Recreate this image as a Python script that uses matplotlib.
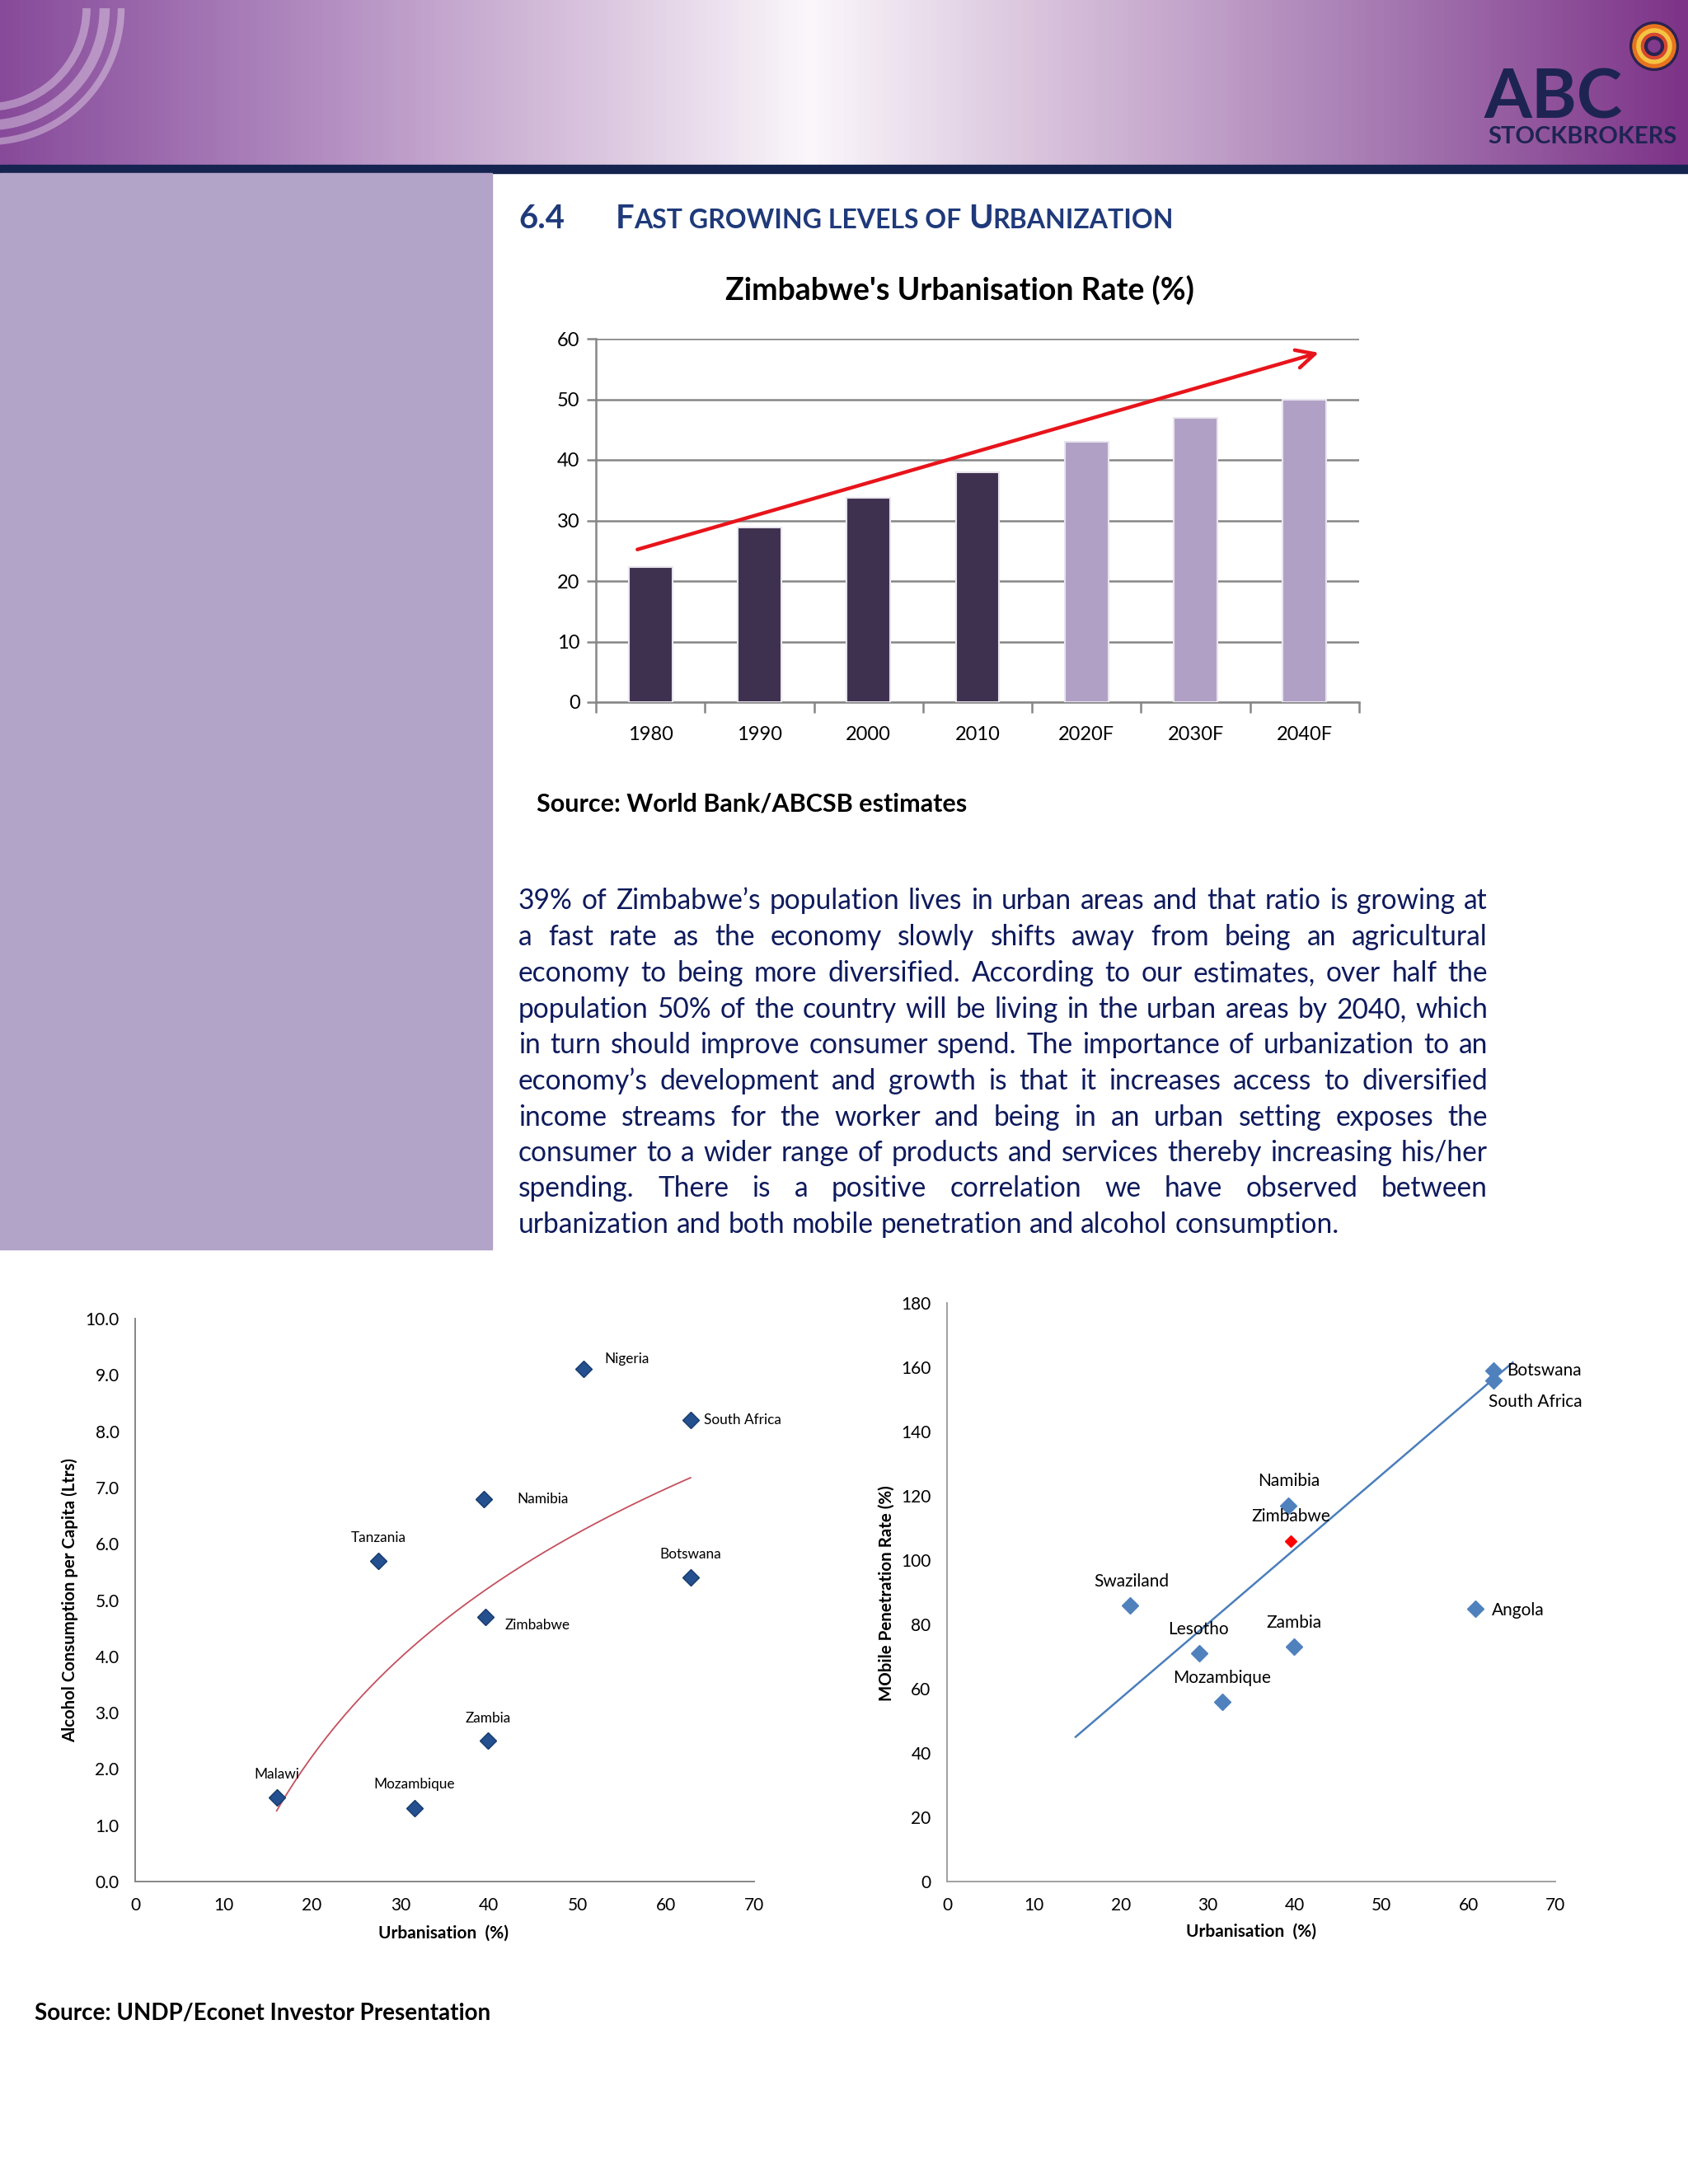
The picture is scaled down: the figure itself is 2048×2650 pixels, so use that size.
import numpy as np
import matplotlib.pyplot as plt
from matplotlib.patches import Rectangle, Arc, Circle
from matplotlib.colors import LinearSegmentedColormap

W, H, DPI = 2048, 2650, 100

# bar chart: Zimbabwe urbanisation rate
years = ['1980', '1990', '2000', '2010', '2020F', '2030F', '2040F']
urban_rate = [22.3, 28.9, 33.7, 38.0, 43.0, 47.0, 50.0]
is_forecast = [False, False, False, False, True, True, True]
arrow_start = (-0.14, 25.1)
arrow_end = (6.15, 57.8)

# alcohol vs urbanisation
alc_countries = ['Nigeria', 'South Africa', 'Namibia', 'Tanzania', 'Botswana',
                 'Zimbabwe', 'Zambia', 'Malawi', 'Mozambique']
alc_urban = [50.7, 62.8, 39.4, 27.5, 62.8, 39.6, 39.9, 16.0, 31.6]
alc_litres = [9.1, 8.2, 6.8, 5.7, 5.4, 4.7, 2.5, 1.5, 1.3]

# mobile penetration vs urbanisation
mob_countries = ['Botswana', 'South Africa', 'Namibia', 'Zimbabwe', 'Swaziland',
                 'Angola', 'Lesotho', 'Zambia', 'Mozambique']
mob_urban = [62.9, 62.9, 39.3, 39.6, 21.1, 60.8, 29.0, 39.9, 31.7]
mob_rate = [159, 156, 117, 106, 86, 85, 71, 73, 56]
mob_trend_x = [14.8, 65.1]
mob_trend_y = [45.0, 161.5]

paragraph = [
    "39% of Zimbabwe\u2019s population lives in urban areas and that ratio is growing at",
    "a fast rate as the economy slowly shifts away from being an agricultural",
    "economy to being more diversified. According to our estimates, over half the",
    "population 50% of the country will be living in the urban areas by 2040, which",
    "in turn should improve consumer spend. The importance of urbanization to an",
    "economy\u2019s development and growth is that it increases access to diversified",
    "income streams for the worker and being in an urban setting exposes the",
    "consumer to a wider range of products and services thereby increasing his/her",
    "spending. There is a positive correlation we have observed between",
    "urbanization and both mobile penetration and alcohol consumption.",
]

chart_font = ['Lato', 'DejaVu Sans']
grey = '#868686'
plt.rcParams['font.family'] = chart_font

fig = plt.figure(figsize=(W / DPI, H / DPI), dpi=DPI)
fig.patch.set_facecolor('white')
bg = fig.add_axes([0, 0, 1, 1])
bg.set_xlim(0, W)
bg.set_ylim(H, 0)
bg.axis('off')
renderer = fig.canvas.get_renderer()


def width_of(t):
    return t.get_window_extent(renderer).width


def space_width(size, **kw):
    a = bg.text(0, 0, 'a a', fontsize=size, **kw)
    b = bg.text(0, 0, 'aa', fontsize=size, **kw)
    w = width_of(a) - width_of(b)
    a.remove()
    b.remove()
    return w


# ---- page decoration ----
cmap = LinearSegmentedColormap.from_list('banner', [
    (0.0, '#874A9A'), (0.18, '#B08ABF'), (0.36, '#DCC8E0'), (0.48, '#FBF7FB'),
    (0.62, '#D8C2DC'), (0.82, '#A67AB2'), (1.0, '#7D3388')])
grad = np.linspace(0, 1, 512)[None, :]
bg.imshow(grad, cmap=cmap, extent=[0, W, 200, 0], aspect='auto', zorder=0)
bg.add_patch(Rectangle((0, 200), W, 10, color='#14234F', zorder=1))
bg.add_patch(Rectangle((0, 210), 597, 1306, color='#B2A3C8', zorder=1))
for r, lw in [(120, 7), (142, 9), (162, 6)]:
    bg.add_patch(Arc((-15, 10), 2 * r, 2 * r, theta1=0, theta2=95,
                     color='white', alpha=0.35, lw=lw, zorder=2))

# logo
bg.text(1885, 120, 'ABC', ha='center', va='center', fontsize=60,
        weight='bold', color='#1E2452', zorder=3)
bg.text(1920, 166, 'STOCKBROKERS', ha='center', va='center', fontsize=21,
        weight='bold', color='#1E2452', zorder=3)
for r, c, lw in [(28, '#2A2350', 3), (24, '#E8731E', 4), (19, '#F5C342', 4),
                 (14, '#D9472B', 3), (10, '#2A2350', 3)]:
    bg.add_patch(Circle((2007, 56), r, fill=False, ec=c, lw=lw, zorder=3))

# ---- section heading with small caps ----
hcol = '#1F3A7A'
big, small = 28.8, 23
bg.text(629, 277, '6.4', fontsize=big, weight='bold', color=hcol, va='baseline')
runs = [('F', big), ('AST GROWING LEVELS OF', small), (None, small),
        ('U', big), ('RBANIZATION', small)]
x = 747
for s, size in runs:
    if s is None:
        x += space_width(size, weight='bold')
        continue
    t = bg.text(x, 277, s, fontsize=size, weight='bold', color=hcol, va='baseline')
    x += width_of(t)

# ---- bar chart ----
bg.text(1164, 352, "Zimbabwe's Urbanisation Rate (%)", ha='center', va='center',
        fontsize=27, weight='bold', color='black')
axb = fig.add_axes([723 / W, 1 - 852 / H, (1649 - 723) / W, (852 - 411) / H])
xpos = np.arange(len(years))
bar_colors = ['#B1A0C6' if f else '#3E3150' for f in is_forecast]
axb.bar(xpos, urban_rate, width=0.4, color=bar_colors, edgecolor='#E9E5EE',
        linewidth=1.5, zorder=3)
axb.set_xlim(-0.5, len(years) - 0.5)
axb.set_ylim(0, 60)
axb.set_yticks(range(0, 61, 10))
axb.yaxis.grid(True, color=grey, lw=1.8)
axb.set_axisbelow(True)
for s in ['top', 'right']:
    axb.spines[s].set_visible(False)
for s in ['left', 'bottom']:
    axb.spines[s].set_color(grey)
    axb.spines[s].set_linewidth(1.8)
axb.set_xticks(xpos)
axb.set_xticklabels(years)
axb.set_xticks(np.arange(-0.5, len(years), 1), minor=True)
axb.tick_params(axis='x', which='major', length=0, pad=21, labelsize=17)
axb.tick_params(axis='x', which='minor', length=9, width=1.8, color=grey)
axb.tick_params(axis='y', length=8, width=1.8, color=grey, labelsize=17, pad=6)
axb.annotate('', xy=arrow_end, xytext=arrow_start,
             arrowprops=dict(arrowstyle='->', color='#E8141B', lw=3.2,
                             mutation_scale=40), zorder=5)

bg.text(651, 975, 'Source: World Bank/ABCSB estimates', ha='left', va='center',
        fontsize=22, weight='bold', color='black')

# ---- justified paragraph ----
pcol = '#0E1A5C'
x0, x1 = 629, 1805
probe = bg.text(0, 0, paragraph[-1], fontsize=20)
psize = 20 * 997 / width_of(probe)
probe.remove()
# make sure the widest line still fits with reasonably tight spaces
for line in paragraph[:-1]:
    words = line.split(' ')
    objs = [bg.text(0, 0, w, fontsize=psize) for w in words]
    need = sum(width_of(o) for o in objs) + 0.7 * space_width(psize) * (len(words) - 1)
    for o in objs:
        o.remove()
    if need > x1 - x0:
        psize *= (x1 - x0) / need
space_w = space_width(psize)
line_y = [1093, 1137, 1181, 1225, 1268, 1312, 1356, 1399, 1442, 1486]
for i, line in enumerate(paragraph):
    words = line.split(' ')
    objs = [bg.text(0, line_y[i], w, fontsize=psize, color=pcol,
                    va='center', ha='left') for w in words]
    widths = [width_of(o) for o in objs]
    if i == len(paragraph) - 1:
        gap = space_w
    else:
        gap = (x1 - x0 - sum(widths)) / (len(words) - 1)
    x = x0
    for o, w in zip(objs, widths):
        o.set_x(x)
        x += w + gap


def style_scatter(ax):
    for s in ['top', 'right']:
        ax.spines[s].set_visible(False)
    for s in ['left', 'bottom']:
        ax.spines[s].set_color(grey)
        ax.spines[s].set_linewidth(1.4)
    ax.tick_params(length=0, labelsize=15, pad=14)
    ax.set_xlim(0, 70)
    ax.set_xticks(range(0, 71, 10))
    ax.patch.set_alpha(0)


# ---- alcohol scatter ----
axl = fig.add_axes([164 / W, 1 - 2283 / H, (915 - 164) / W, (2283 - 1600) / H])
style_scatter(axl)
axl.set_ylim(0, 10)
axl.set_yticks(np.arange(0, 10.01, 1))
axl.set_yticklabels([f'{v:.1f}' for v in np.arange(0, 10.01, 1)])
coef = np.polyfit(np.log(alc_urban), alc_litres, 1)
xs = np.linspace(min(alc_urban), max(alc_urban), 200)
axl.plot(xs, coef[0] * np.log(xs) + coef[1], color='#C4505E', lw=1.3, zorder=2)
axl.plot(alc_urban, alc_litres, 'D', ms=10.3, color='#24508F', mec='#173A6B',
         mew=1.0, zorder=3)
alc_offsets = {'Nigeria': (25, 12, 'left'), 'South Africa': (16, 0, 'left'),
               'Namibia': (41, 0, 'left'), 'Tanzania': (0, 28, 'center'),
               'Botswana': (0, 28, 'center'), 'Zimbabwe': (24, -10, 'left'),
               'Zambia': (0, 27, 'center'), 'Malawi': (0, 28, 'center'),
               'Mozambique': (0, 29, 'center')}
for name, ux, vy in zip(alc_countries, alc_urban, alc_litres):
    dx, dy, ha = alc_offsets[name]
    axl.annotate(name, (ux, vy), xytext=(dx, dy), textcoords='offset pixels',
                 ha=ha, va='center', fontsize=12.4)
bg.text(85, 1942, 'Alcohol Consumption per Capita (Ltrs)', rotation=90,
        ha='center', va='center', fontsize=14.7, weight='bold')
bg.text(538, 2346, 'Urbanisation  (%)', ha='center', va='center', fontsize=15,
        weight='bold')

# ---- mobile scatter ----
axr = fig.add_axes([1149 / W, 1 - 2283 / H, (1887 - 1149) / W, (2283 - 1581) / H])
style_scatter(axr)
axr.spines['left'].set_color('#A0A0A0')
axr.spines['bottom'].set_color('#A0A0A0')
axr.set_ylim(0, 180)
axr.set_yticks(range(0, 181, 20))
axr.plot(mob_trend_x, mob_trend_y, color='#4A7EBB', lw=1.8, zorder=2)
mob_colors = ['#FF0000' if c == 'Zimbabwe' else '#4F81BD' for c in mob_countries]
for c, ux, vy, col in zip(mob_countries, mob_urban, mob_rate, mob_colors):
    axr.plot(ux, vy, 'D', ms=6.8 if c == 'Zimbabwe' else 9.7, color=col, zorder=3)
mob_offsets = {'Botswana': (16, 0, 'left'), 'South Africa': (-6, -26, 'left'),
               'Namibia': (0, 30, 'center'), 'Zimbabwe': (0, 30, 'center'),
               'Swaziland': (1, 29, 'center'), 'Angola': (20, -2, 'left'),
               'Lesotho': (-1, 29, 'center'), 'Zambia': (0, 29, 'center'),
               'Mozambique': (-1, 29, 'center')}
for name, ux, vy in zip(mob_countries, mob_urban, mob_rate):
    dx, dy, ha = mob_offsets[name]
    axr.annotate(name, (ux, vy), xytext=(dx, dy), textcoords='offset pixels',
                 ha=ha, va='center', fontsize=15)
bg.text(1076, 1933, 'MObile Penetration Rate (%)', rotation=90, ha='center',
        va='center', fontsize=14.8, weight='bold')
bg.text(1518, 2344, 'Urbanisation  (%)', ha='center', va='center', fontsize=15,
        weight='bold')

bg.text(42, 2443, 'Source: UNDP/Econet Investor Presentation', ha='left',
        va='center', fontsize=20, weight='bold')

fig.savefig('out.png', dpi=DPI)
